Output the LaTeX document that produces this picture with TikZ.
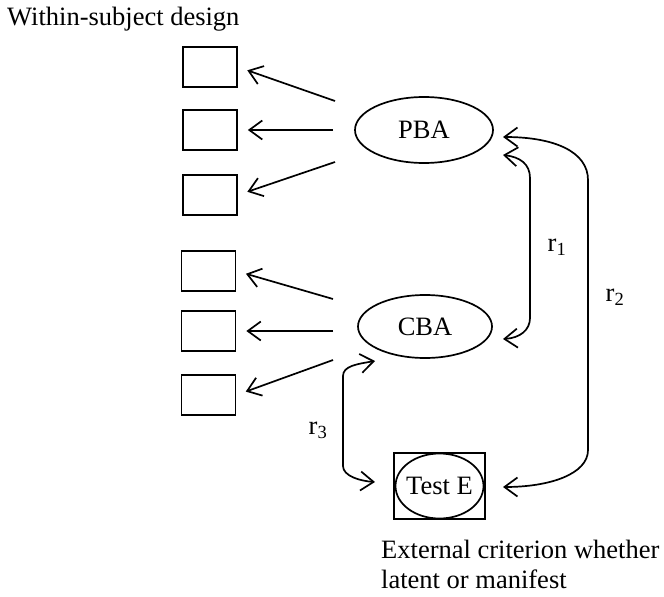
\documentclass[tikz,border=0pt]{standalone}
\usepackage{fontspec}
\setmainfont{Liberation Serif}
\usetikzlibrary{arrows.meta,shapes.geometric}
\begin{document}
\begin{tikzpicture}[x=1pt,y=-1pt,
  every node/.style={font=\fontsize{26.5}{30}\selectfont},
  ind/.style={draw, line width=1.7pt, minimum width=54pt, minimum height=40pt, inner sep=0pt},
  lat/.style={draw, ellipse, line width=1.7pt, inner sep=0pt},
  conn/.style={line width=1.7pt, -{Straight Barb[length=13pt,width=19pt]}, shorten >=10pt},
  bi/.style={line width=1.7pt, {Straight Barb[length=13pt,width=19pt]}-{Straight Barb[length=13pt,width=19pt]}},
  lbl/.style={inner sep=0pt}]
\useasboundingbox (0,0) rectangle (664,597);

\node[lbl, anchor=base west] (title) at (7,25) {Within-subject design};

\node[ind] (b1) at (210,67) {};
\node[ind] (b2) at (210,130) {};
\node[ind] (b3) at (210,195) {};
\node[ind] (b4) at (208.5,271) {};
\node[ind] (b5) at (208.5,331) {};
\node[ind] (b6) at (208.5,395) {};

\node[lat, minimum width=138pt, minimum height=66pt] (pba) at (424,130) {PBA};
\node[lat, minimum width=134pt, minimum height=63pt] (cba) at (425,326.5) {CBA};
\node[ind, minimum width=91pt, minimum height=66pt] (te) at (439.5,486) {Test E};
\draw[line width=1.7pt] (te.center) ellipse [x radius=44pt, y radius=32.5pt];

\coordinate (s1) at (335,101);
\coordinate (s2) at (333,130);
\coordinate (s3) at (335,162);
\coordinate (s4) at (333,299);
\coordinate (s5) at (333,331);
\coordinate (s6) at (333,360);
\draw[conn] (s1) -- (b1.east);
\draw[conn] (s2) -- (b2.east);
\draw[conn] (s3) -- (b3.east);
\draw[conn] (s4) -- (b4.east);
\draw[conn] (s5) -- (b5.east);
\draw[conn] (s6) -- (b6.east);

\coordinate (p1) at (503,155);
\coordinate (c1) at (503,339);
\coordinate (p2) at (503,137);
\coordinate (t2) at (503,487);
\coordinate (c3) at (375,361);
\coordinate (t3) at (375,482);

\draw[bi] (p1) .. controls (520,157) and (530,164) .. (530,178) -- (530,318) .. controls (530,330) and (520,338) .. (c1);
\draw[bi] (p2) .. controls (555,137) and (588,152) .. (588,180) -- (588,450) .. controls (588,474) and (550,487) .. (t2);
\draw[bi] (c3) .. controls (357,364) and (343,366) .. (343,376) -- (343,466) .. controls (343,476) and (360,481) .. (t3);

\node[lbl] (r1) at (557,247) {r\textsubscript{1}};
\node[lbl] (r2) at (615,297) {r\textsubscript{2}};
\node[lbl] (r3) at (318,430) {r\textsubscript{3}};

\node[lbl, anchor=north west, align=left] (ext) at (381,540) {External criterion whether\\latent or manifest};
\end{tikzpicture}
\end{document}
